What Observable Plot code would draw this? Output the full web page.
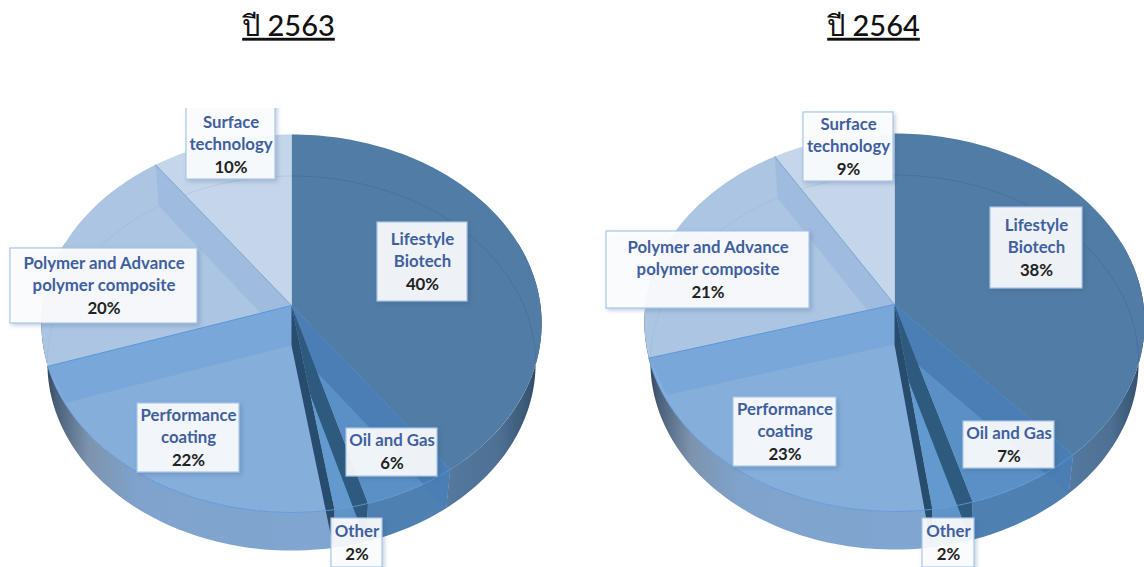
<!DOCTYPE html>
<html>
<head>
<meta charset="utf-8">
<script src="https://cdn.jsdelivr.net/npm/d3@7"></script>
<script src="https://cdn.jsdelivr.net/npm/@observablehq/plot@0.6"></script>
<style>
html,body{margin:0;padding:0;background:#fff;overflow:hidden}
#chart{width:1144px;height:567px}
.ttl text{text-decoration:underline;text-decoration-thickness:3px}
.box rect{filter:drop-shadow(2px 2px 2px rgba(60,90,130,.3))}
</style>
</head>
<body>
<div id="chart"></div>
<script>
// ---- data ----
const years = ["ปี 2563", "ปี 2564"];
const categories = ["Lifestyle\nBiotech", "Oil and Gas", "Other", "Performance\ncoating", "Polymer and Advance\npolymer composite", "Surface\ntechnology"];
const shares2563 = [40, 5.5, 2, 22.4, 20.1, 10];
const shares2564 = [38.4, 7, 2.4, 22.7, 20.8, 8.7];

// ---- layout ----
const W = 1144, H = 567;
const K = 0.095, TOP = {a: 187.3, b: 249, dy: 0}, BOT = {a: 185.6, b: 243, dy: 40};
const pies = [{shares: shares2563, cx: 291, cy: 305, titleX: 288}, {shares: shares2564, cx: 894, cy: 304, titleX: 873}];
// label box [left, right, top, bottom], per category
const boxes = [
  [[377,467,222,301],[346,437,428,476],[331,382,518,567],[137,239,403,472],[10,197,248,323],[186,275,110,179]],
  [[990,1082,207,288],[963,1054,421,468],[922,974,518,567],[733,836,397,466],[606,809,231,308],[803,893,112,181]]
];
const clippedAt = 108; // the reference picture cuts the first "Surface" box here
const LH = 22.8;
const C = {
  life:"#517ca5", oil:"#5a90c5", oilFace:"#4a7eb4", other:"#6299cf", stripR:"#2f5a80", stripL:"#274c6e",
  perf:"#86aedb", perfFace:"#79a7da", poly:"#abc5e3", polyFace:"#9fbbdd", surf:"#c5d6ea", rim:"#5c97d8"
};

// ---- geometry of a pie seen in perspective ----
const pt = (p, deg, lvl) => {
  const t = deg * Math.PI / 180, u = Math.sin(t), v = -Math.cos(t), w = 1 - K * v;
  return {x: p.cx + lvl.b * u / w, y: p.cy + lvl.dy + lvl.a * v / w};
};
const arc = (p, d0, d1, lvl) => {
  const n = Math.max(2, Math.ceil(Math.abs(d1 - d0) / 1.5)), out = [];
  for (let i = 0; i <= n; i++) out.push(pt(p, d0 + (d1 - d0) * i / n, lvl));
  return out;
};
const apex = (p, lvl) => ({x: p.cx, y: p.cy + lvl.dy});
const inTop = (p, q) => ((q.x - p.cx) / 250) ** 2 + ((q.y - p.cy - 18) / 189) ** 2 < 1;
const poly = (pts, fill) => Plot.line(pts, {x: "x", y: "y", fill, stroke: "none", curve: "linear"});
const stroke = (pts, color, width = 1, opacity = 1) => Plot.line(pts, {x: "x", y: "y", stroke: color, strokeWidth: width, strokeOpacity: opacity, curve: "linear"});

function pieMarks(p) {
  const cum = [0]; p.shares.forEach(s => cum.push(cum[cum.length - 1] + s));
  const d = cum.map(c => c * 3.6);
  const wedge = (i, c) => poly([apex(p, TOP), ...arc(p, d[i], d[i + 1], TOP)], c);
  const wall = (d0, d1, c) => poly([...arc(p, d0, d1, TOP), ...arc(p, d1, d0, BOT)], c);
  const face = (deg, c, clip) => {
    const n = 60, lower = [];
    const r = pt(p, deg, BOT), a = apex(p, BOT);
    for (let i = 0; i <= n; i++) {
      const q = {x: a.x + (r.x - a.x) * i / n, y: a.y + (r.y - a.y) * i / n};
      if (!clip || inTop(p, q)) lower.push(q);
    }
    return poly([apex(p, TOP), pt(p, deg, TOP), ...lower.reverse()], c);
  };
  const radial = (deg, c, w = 1) => stroke([apex(p, TOP), pt(p, deg, TOP)], c, w);
  const inner = (d0, d1, c, o) => stroke(arc(p, d0, d1, BOT).filter(q => inTop(p, q)), c, 1, o);
  return [
    wall(70, d[1], "url(#wallRight)"),
    wall(d[1], d[2], "#4f80b2"),
    wall(d[2], d[3], "#5f94c8"),
    wall(d[3], 290, "url(#wallLeft)"),
    wedge(0, C.life), inner(0, d[1], "#3f6a94", .55),
    wedge(5, C.surf), inner(d[5], 360, "#9fbbdd", .5),
    wedge(4, C.poly), inner(d[4], d[5], "#9fbbdd", .7),
    face(d[5], C.polyFace, true),
    wedge(1, C.oil), face(d[1], C.oilFace, false),
    wedge(2, C.other), face(d[2], C.stripR, false),
    wedge(3, C.perf), face(d[4], C.perfFace, true), face(d[3], C.stripL, false),
    stroke(arc(p, d[1], d[4], TOP), C.rim, 1, .9),
    radial(d[1], "#4a82bb", .8), radial(d[4], C.rim), radial(d[5], "#7aa6d8"),
  ];
}

function labelMarks(p, b) {
  const rows = [];
  categories.forEach((c, i) => {
    const lines = c.split("\n");
    const n = lines.length + 1, mx = (b[i][0] + b[i][1]) / 2, my = (b[i][2] + b[i][3]) / 2;
    lines.forEach((t, j) => rows.push({t, x: mx, y: my + (j - (n - 1) / 2) * LH, pct: false}));
    rows.push({t: Math.round(p.shares[i]) + "%", x: mx, y: my + (n - 1) / 2 * LH, pct: true});
  });
  const font = {fontFamily: "Lato", fontWeight: 700, fontSize: 16.8, x: "x", y: "y", textAnchor: "middle"};
  const top = d => (d[2] === boxes[0][5][2] && d === boxes[0][5]) ? clippedAt - 10 : d[2];
  return [
    Plot.rect(b, {x1: d => d[0], x2: d => d[1], y1: top, y2: d => d[3], fill: "#fff", fillOpacity: .91, stroke: "#a9c6ea", strokeWidth: 1.2, className: "box"}),
    Plot.text(rows.filter(r => !r.pct), {...font, text: "t", fill: "#3f5f9f"}),
    Plot.text(rows.filter(r => r.pct), {...font, text: "t", fill: "#222"})
  ];
}

const gradient = (defs, id, stops) => {
  const g = defs.append("linearGradient").attr("id", id);
  stops.forEach(([o, c]) => g.append("stop").attr("offset", o).attr("stop-color", c));
};
const defsMark = () => {
  const defs = d3.create("svg:defs");
  gradient(defs, "wallLeft", [[0, "#2b3c50"], [.05, "#4a5f78"], [.16, "#7d93ad"], [.33, "#7fa3cc"], [1, "#7fa6d1"]]);
  gradient(defs, "wallRight", [[0, "#55799f"], [.55, "#4d7093"], [.88, "#385472"], [1, "#233649"]]);
  return defs.node();
};

const chart = Plot.plot({
  width: W, height: H, margin: 0,
  x: {domain: [0, W], axis: null},
  y: {domain: [H, 0], axis: null},
  marks: [
    defsMark,
    ...pies.flatMap(pieMarks),
    ...pies.flatMap((p, i) => labelMarks(p, boxes[i])),
    Plot.rect([boxes[0][5]], {x1: d => d[0] - 6, x2: d => d[1] + 6, y1: clippedAt - 14, y2: clippedAt, fill: "#fff"}),
    Plot.text(years.map((t, i) => ({t, x: pies[i].titleX})), {
      x: "x", y: () => 26, text: "t", fontFamily: "Lato", fontSize: 29, fontWeight: 500, fill: "#111", className: "ttl"
    })
  ]
});
document.getElementById("chart").append(chart);
</script>
</body>
</html>
